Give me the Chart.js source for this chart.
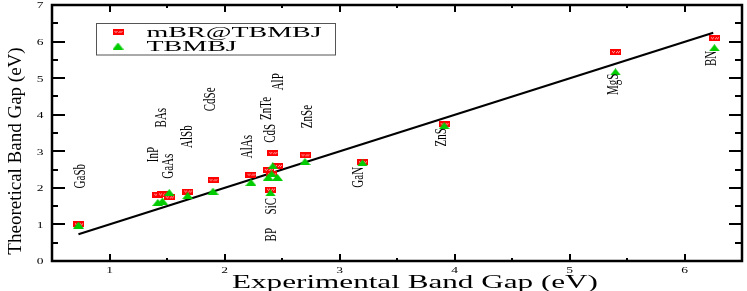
<!DOCTYPE html>
<html><head><meta charset="utf-8">
<script src="https://cdn.jsdelivr.net/npm/chart.js@4/dist/chart.umd.min.js"></script>
<style>html,body{margin:0;padding:0;background:#fff}canvas{display:block}</style>
</head><body>
<canvas id="c" width="747" height="291"></canvas>
<script>
// ---- data ----
const compounds = ['GaSb','InP','BAs','GaAs','AlSb','CdSe','AlAs','ZnTe','SiC','BP','CdS','AlP','ZnSe','GaN','ZnS','MgS','BN'];
const expGap    = [0.73, 1.42, 1.46, 1.52, 1.68, 1.90, 2.23, 2.38, 2.40, 2.41, 2.42, 2.46, 2.70, 3.20, 3.91, 5.40, 6.26];
const mbrGap    = [1.00, 1.81, 1.82, 1.74, 1.90, 2.21, 2.36, 2.49, 1.95, 2.37, 2.95, 2.60, 2.89, 2.70, 3.74, 5.71, 6.09];
const tbmbjGap  = [0.98, 1.60, 1.64, 1.87, 1.79, 1.91, 2.15, 2.29, 1.86, 2.38, 2.60, 2.29, 2.72, 2.68, 3.70, 5.17, 5.83];
// label anchors (data space)
const labelAtX  = [0.746, 1.38, 1.45, 1.51, 1.68, 1.88, 2.20, 2.36, 2.41, 2.41, 2.40, 2.47, 2.72, 3.16, 3.89, 5.38, 6.23];
const labelAtY  = [2.32, 2.91, 3.92, 2.59, 3.40, 4.42, 3.13, 4.17, 1.50, 0.72, 3.49, 4.90, 3.95, 2.29, 3.38, 4.83, 5.54];
const fitX = [0.73, 6.25];
const fitY = [0.73, 6.24];
const xTickValues = [1, 2, 3, 4, 5, 6];
const yTickValues = [0, 1, 2, 3, 4, 5, 6, 7];
const seriesNames = ['mBR@TBMBJ', 'TBMBJ'];
const xTitle = 'Experimental Band Gap (eV)';
const yTitle = 'Theoretical Band Gap (eV)';

// ---- marker images ----
function makeRect(){
  const c=document.createElement('canvas'); c.width=11; c.height=6;
  const g=c.getContext('2d'); g.fillStyle='#ff0000'; g.fillRect(0,0,11,6);
  g.fillStyle='rgba(255,190,190,0.95)';
  [[2,2],[4,2],[7,2],[9,2],[3,3],[6,3],[8,3]].forEach(p=>g.fillRect(p[0],p[1],1,1));
  return c;
}
function makeTri(){
  const c=document.createElement('canvas'); c.width=11; c.height=7;
  const g=c.getContext('2d'); g.fillStyle='#00cc00';
  g.beginPath(); g.moveTo(5.5,0); g.lineTo(11,7); g.lineTo(0,7); g.closePath(); g.fill();
  return c;
}
const rectImg = makeRect(), triImg = makeTri();

const FONT = '"Liberation Serif", "Times New Roman", serif';

const deco = {
  id: 'deco',
  afterDatasetsDraw(chart){
    const {ctx, chartArea:a, scales:{x, y}} = chart;
    ctx.save();
    ctx.fillStyle = '#000';
    // compound labels (rotated)
    ctx.font = '11px ' + FONT;
    ctx.textAlign = 'center'; ctx.textBaseline = 'middle';
    compounds.forEach((n,i)=>{
      const px = x.getPixelForValue(labelAtX[i]), py = y.getPixelForValue(labelAtY[i]);
      ctx.save(); ctx.translate(px,py); ctx.scale(1.6,1); ctx.rotate(-Math.PI/2); ctx.fillText(n,0,0); ctx.restore();
    });
    // frame
    ctx.strokeStyle = '#000'; ctx.lineWidth = 2.5;
    ctx.strokeRect(a.left, a.top, a.right-a.left, a.bottom-a.top);
    // ticks
    ctx.lineWidth = 2;
    ctx.beginPath();
    for (let v = x.min + 0.5; v < x.max - 0.01; v += 0.5){
      const px = Math.round(x.getPixelForValue(v)) + 0.0;
      const major = Math.abs(v - Math.round(v)) < 1e-6;
      const L = major ? 7 : 3;
      ctx.moveTo(px, a.bottom); ctx.lineTo(px, a.bottom - L);
      ctx.moveTo(px, a.top); ctx.lineTo(px, a.top + L);
    }
    for (let v = y.min + 0.5; v < y.max - 0.01; v += 0.5){
      const py = Math.round(y.getPixelForValue(v));
      const major = Math.abs(v - Math.round(v)) < 1e-6;
      ctx.moveTo(a.left, py); ctx.lineTo(a.left + (major ? 13 : 6), py);
      ctx.moveTo(a.right, py); ctx.lineTo(a.right - (major ? 13 : 7), py);
    }
    ctx.stroke();
    // tick labels
    ctx.font = '9px ' + FONT;
    ctx.textAlign = 'center'; ctx.textBaseline = 'middle';
    x.ticks.forEach(t=>{
      const px = x.getPixelForValue(t.value);
      ctx.save(); ctx.translate(px, a.bottom + 10); ctx.scale(1.5,1); ctx.fillText(String(t.value),0,0); ctx.restore();
    });
    y.ticks.forEach(t=>{
      const py = y.getPixelForValue(t.value);
      ctx.save(); ctx.translate(a.left - 12, py + 1); ctx.scale(1.5,1); ctx.fillText(String(t.value),0,0); ctx.restore();
    });
    // axis titles
    ctx.font = '19px ' + FONT;
    ctx.textBaseline = 'alphabetic'; ctx.textAlign = 'center';
    ctx.save(); ctx.translate(a.left + 363, a.bottom + 27); ctx.scale(1.64,1); ctx.fillText(xTitle,0,0); ctx.restore();
    ctx.textBaseline = 'middle';
    ctx.save(); ctx.translate(16, a.top + 146); ctx.rotate(-Math.PI/2); ctx.fillText(yTitle,0,0); ctx.restore();
    // legend
    const lx = a.left + 44.5, ly = a.top + 18.5;
    ctx.strokeStyle = '#555'; ctx.lineWidth = 1;
    ctx.strokeRect(lx, ly, 239, 31.5);
    ctx.drawImage(rectImg, lx + 16, ly + 5.5);
    ctx.drawImage(triImg, lx + 16, ly + 19);
    ctx.font = '14px ' + FONT; ctx.textAlign = 'left'; ctx.textBaseline = 'alphabetic';
    ctx.save(); ctx.translate(lx + 50, ly + 13.5); ctx.scale(2.0,1); ctx.fillText(seriesNames[0],0,0); ctx.restore();
    ctx.save(); ctx.translate(lx + 50, ly + 27.5); ctx.scale(2.0,1); ctx.fillText(seriesNames[1],0,0); ctx.restore();
    ctx.restore();
  }
};

new Chart(document.getElementById('c'), {
  type: 'scatter',
  data: {
    datasets: [
      { label: seriesNames[1], data: expGap.map((v,i)=>({x:v, y:tbmbjGap[i]})), pointStyle: triImg, order: 0 },
      { label: seriesNames[0], data: expGap.map((v,i)=>({x:v, y:mbrGap[i]})), pointStyle: rectImg, order: 1 },
      { type: 'line', label: 'fit', data: fitX.map((v,i)=>({x:v, y:fitY[i]})), borderColor: '#000', borderWidth: 2.2, pointRadius: 0, fill: false, order: 2 }
    ]
  },
  options: {
    responsive: false, animation: false, devicePixelRatio: 1,
    layout: { padding: { left: 0, right: 5, top: 4, bottom: 0 } },
    plugins: { legend: { display: false }, tooltip: { enabled: false } },
    scales: {
      x: { type: 'linear', min: 0.5, max: 6.5,
           grid: { display: false, drawTicks: false }, border: { display: false },
           ticks: { display: false },
           afterBuildTicks: s => { s.ticks = xTickValues.map(v=>({value:v})); },
           afterFit: s => { s.height = 30; } },
      y: { type: 'linear', min: 0, max: 7,
           grid: { display: false, drawTicks: false }, border: { display: false },
           ticks: { display: false },
           afterBuildTicks: s => { s.ticks = yTickValues.map(v=>({value:v})); },
           afterFit: s => { s.width = 52; } }
    }
  },
  plugins: [deco]
});
</script>
</body></html>
